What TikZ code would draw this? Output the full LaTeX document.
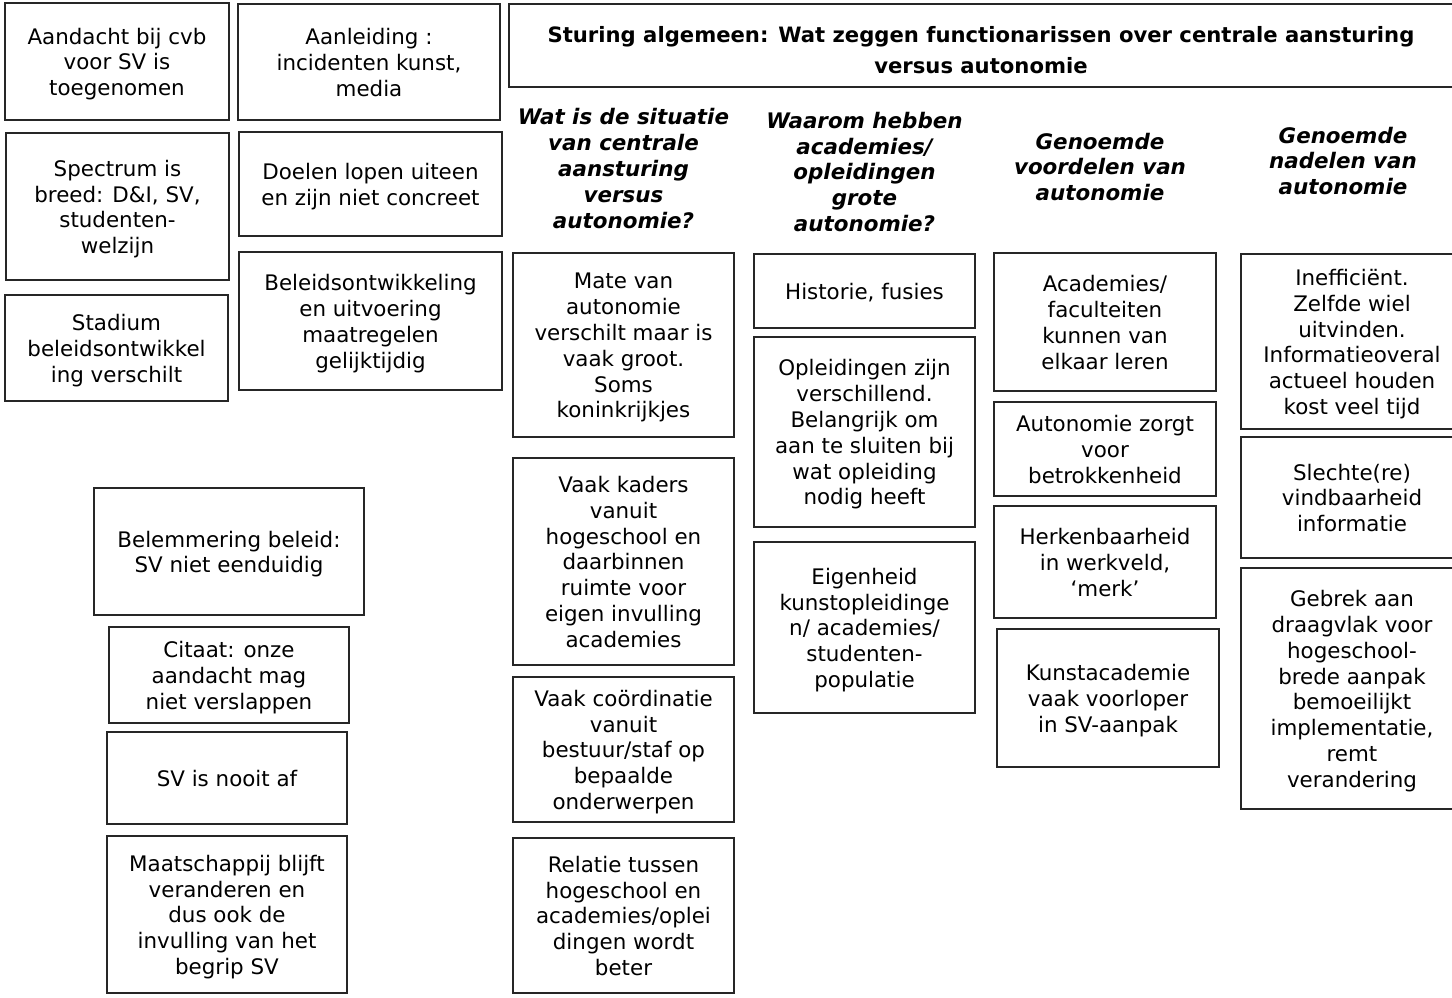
\documentclass[tikz,border=0pt]{standalone}
\usepackage{fontspec}
\setmainfont{DejaVu Sans}
\newcommand\stl{\rule[-4.5pt]{0pt}{25.8pt}}
\begin{document}
\begin{tikzpicture}[x=1pt,y=-1pt,
  box/.style={draw=black!85, line width=1.2pt, align=center, inner sep=0pt,
    font=\fontsize{21.4}{25.8}\selectfont},
  hdr/.style={align=center, inner sep=0pt,
    font=\fontsize{21.4}{25.8}\selectfont\bfseries\itshape},
  ttl/.style={align=center, inner sep=0pt,
    font=\fontsize{21.15}{31}\selectfont\bfseries}]
\useasboundingbox (0,0) rectangle (1452,997);

% left block
\node[box, minimum width=224pt, minimum height=117pt] (aandacht) at (117,61.5) {\stl Aandacht bij cvb\\voor SV is\\toegenomen\stl};
\node[box, minimum width=262pt, minimum height=116pt] (aanleiding) at (369,62) {\stl Aanleiding :\\incidenten kunst,\\media\stl};
\node[box, minimum width=223pt, minimum height=147pt] (spectrum) at (117.5,206.5) {\stl Spectrum is\\breed: D\&I, SV,\\studenten-\\welzijn\stl};
\node[box, minimum width=263pt, minimum height=104pt] (doelen) at (370.5,184) {\stl Doelen lopen uiteen\\en zijn niet concreet\stl};
\node[box, minimum width=223pt, minimum height=106pt] (stadium) at (116.5,348) {\stl Stadium\\beleidsontwikkel\\ing verschilt\stl};
\node[box, minimum width=263pt, minimum height=138pt] (beleid) at (370.5,321) {\stl Beleidsontwikkeling\\en uitvoering\\maatregelen\\gelijktijdig\stl};

% title
\node[box, minimum width=944pt, minimum height=83pt] (titlebox) at (981,45.5) {};
\node[ttl] (title) at (981,50) {Sturing algemeen: Wat zeggen functionarissen over centrale aansturing\\versus autonomie};

% headers
\node[hdr] (h1) at (623.5,168.5) {Wat is de situatie\\van centrale\\aansturing\\versus\\autonomie?};
\node[hdr] (h2) at (864.5,172) {Waarom hebben\\academies/\\opleidingen\\grote\\autonomie?};
\node[hdr] (h3) at (1100,167) {Genoemde\\voordelen van\\autonomie};
\node[hdr] (h4) at (1343,161) {Genoemde\\nadelen van\\autonomie};

% column 1
\node[box, minimum width=221pt, minimum height=184pt] (mate) at (623.5,345) {\stl Mate van\\autonomie\\verschilt maar is\\vaak groot.\\Soms\\koninkrijkjes\stl};
\node[box, minimum width=221pt, minimum height=207pt] (kaders) at (623.5,561.5) {\stl Vaak kaders\\vanuit\\hogeschool en\\daarbinnen\\ruimte voor\\eigen invulling\\academies\stl};
\node[box, minimum width=221pt, minimum height=145pt] (coord) at (623.5,749.5) {\stl Vaak coördinatie\\vanuit\\bestuur/staf op\\bepaalde\\onderwerpen\stl};
\node[box, minimum width=221pt, minimum height=155pt] (relatie) at (623.5,915.5) {\stl Relatie tussen\\hogeschool en\\academies/oplei\\dingen wordt\\beter\stl};

% column 2
\node[box, minimum width=221pt, minimum height=74pt] (historie) at (864.5,291) {\stl Historie, fusies\stl};
\node[box, minimum width=221pt, minimum height=190pt] (opleid) at (864.5,432) {\stl Opleidingen zijn\\verschillend.\\Belangrijk om\\aan te sluiten bij\\wat opleiding\\nodig heeft\stl};
\node[box, minimum width=221pt, minimum height=171pt] (eigen) at (864.5,627.5) {\stl Eigenheid\\kunstopleidinge\\n/ academies/\\studenten-\\populatie\stl};

% column 3
\node[box, minimum width=222pt, minimum height=138pt] (acad) at (1105,322) {\stl Academies/\\faculteiten\\kunnen van\\elkaar leren\stl};
\node[box, minimum width=222pt, minimum height=94pt] (betrok) at (1105,449) {\stl Autonomie zorgt\\voor\\betrokkenheid\stl};
\node[box, minimum width=222pt, minimum height=112pt] (herken) at (1105,562) {\stl Herkenbaarheid\\in werkveld,\\‘merk’\stl};
\node[box, minimum width=222pt, minimum height=138pt] (kunst) at (1108,698) {\stl Kunstacademie\\vaak voorloper\\in SV-aanpak\stl};

% column 4
\node[box, minimum width=222pt, minimum height=175pt] (ineff) at (1352,341.5) {\stl Inefficiënt.\\Zelfde wiel\\uitvinden.\\Informatieoveral\\actueel houden\\kost veel tijd\stl};
\node[box, minimum width=222pt, minimum height=121pt] (slechte) at (1352,497.5) {\stl Slechte(re)\\vindbaarheid\\informatie\stl};
\node[box, minimum width=222pt, minimum height=241pt] (gebrek) at (1352,688.5) {\stl Gebrek aan\\draagvlak voor\\hogeschool-\\brede aanpak\\bemoeilijkt\\implementatie,\\remt\\verandering\stl};

% lower left
\node[box, minimum width=270pt, minimum height=127pt] (belem) at (229,551.5) {\stl Belemmering beleid:\\SV niet eenduidig\stl};
\node[box, minimum width=240pt, minimum height=96pt] (citaat) at (229,675) {\stl Citaat: onze\\aandacht mag\\niet verslappen\stl};
\node[box, minimum width=240pt, minimum height=92pt] (nooit) at (227,778) {\stl SV is nooit af\stl};
\node[box, minimum width=240pt, minimum height=157pt] (maatsch) at (227,914.5) {\stl Maatschappij blijft\\veranderen en\\dus ook de\\invulling van het\\begrip SV\stl};
\end{tikzpicture}
\end{document}
